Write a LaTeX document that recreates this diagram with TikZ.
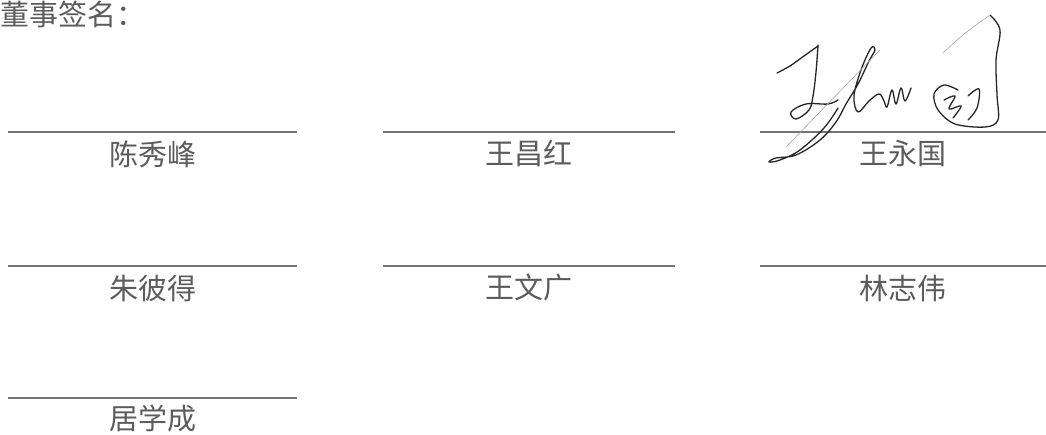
\documentclass[tikz,border=0pt]{standalone}
\usepackage{fontspec}
\newfontfamily\cjk{Noto Sans CJK SC}
\usetikzlibrary{positioning,calc}
\definecolor{inkgray}{gray}{0.36}
\definecolor{rulegray}{gray}{0.45}
\definecolor{pen}{gray}{0.15}

\begin{document}
\begin{tikzpicture}[x=1pt, y=-1pt,
    sigline/.style={draw=rulegray, line width=1.1pt},
    signame/.style={text=inkgray, font=\cjk\fontsize{29}{34}\selectfont, inner sep=0pt},
    penstroke/.style={draw=pen, line width=1.3pt, line cap=round, line join=round},
    thinstroke/.style={draw=gray!70, line width=0.6pt, line cap=round}]

  \useasboundingbox (0,0) rectangle (1046,435);

  \node [signame, anchor=west] (title) at (0,14) {董事签名：};

  % signature lines, one per director
  \coordinate (a-l) at (8,132);   \coordinate (a-r) at (297,132);
  \coordinate (b-l) at (383,132); \coordinate (b-r) at (675,132);
  \coordinate (c-l) at (760,132); \coordinate (c-r) at (1046,132);
  \coordinate (d-l) at (8,266);   \coordinate (d-r) at (297,266);
  \coordinate (e-l) at (383,266); \coordinate (e-r) at (675,266);
  \coordinate (f-l) at (760,266); \coordinate (f-r) at (1046,266);
  \coordinate (g-l) at (8,398);   \coordinate (g-r) at (297,398);

  \path [sigline] (a-l) -- (a-r) ;
  \path [sigline] (b-l) -- (b-r) ;
  \path [sigline] (c-l) -- (c-r) ;
  \path [sigline] (d-l) -- (d-r) ;
  \path [sigline] (e-l) -- (e-r) ;
  \path [sigline] (f-l) -- (f-r) ;
  \path [sigline] (g-l) -- (g-r) ;

  \node [signame] (chen) at ($($(a-l)!0.5!(a-r)$)+(0,22)$) {陈秀峰} ;
  \node [signame] (wangch) at ($($(b-l)!0.5!(b-r)$)+(0,22)$) {王昌红} ;
  \node [signame] (wangyg) at ($($(c-l)!0.5!(c-r)$)+(0,22)$) {王永国} ;
  \node [signame] (zhu) at ($($(d-l)!0.5!(d-r)$)+(0,22)$) {朱彼得} ;
  \node [signame] (wangwg) at ($($(e-l)!0.5!(e-r)$)+(0,22)$) {王文广} ;
  \node [signame] (lin) at ($($(f-l)!0.5!(f-r)$)+(0,22)$) {林志伟} ;
  \node [signame] (ju) at ($($(g-l)!0.5!(g-r)$)+(0,20)$) {居学成} ;

  % handwritten signature over the third line
  \draw [penstroke] plot [smooth, tension=0.6] coordinates
    {(777,73) (790,66) (804,56) (818,46)} ;
  \draw [penstroke] plot [smooth, tension=0.6] coordinates
    {(818,45) (816,72) (813,96) (809,110) (796,119) (791,112) (806,104) (828,104) (838,100)} ;
  \draw [penstroke] plot [smooth, tension=0.6] coordinates
    {(838,108) (824,128) (800,150) (780,160) (769,162) (776,158) (796,155) (820,140)
     (836,122) (846,104) (858,84) (869,61) (875,50) (871,48) (861,70) (854,96) (858,112)
     (869,101) (879,94) (884,101) (887,107) (892,90) (896,104) (901,88) (905,101) (911,88)} ;
  \draw [penstroke] plot [smooth, tension=0.55] coordinates
    {(990,15) (1000,30) (996,60) (997,95) (998,120) (985,127) (955,124) (938,110)
     (934,94) (944,85) (958,90)} ;
  \draw [penstroke] plot [smooth, tension=0.6] coordinates
    {(944,100) (955,96) (949,109) (961,106) (953,118)} ;
  \draw [penstroke] plot [smooth, tension=0.6] coordinates
    {(968,96) (979,89) (977,108) (968,120)} ;
  \draw [thinstroke] (786,147) -- (880,50) ;
  \draw [thinstroke] (943,53) .. controls (962,35) .. (990,15) ;

\end{tikzpicture}
\end{document}
